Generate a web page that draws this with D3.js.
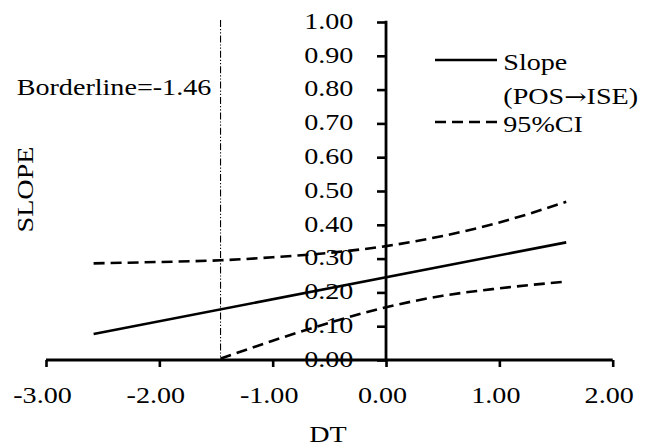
<!DOCTYPE html>
<html>
<head>
<meta charset="utf-8">
<script src="https://cdn.jsdelivr.net/npm/d3@7"></script>
<style>
  html, body { margin: 0; padding: 0; background: #fff; }
  svg { display: block; }
  text { font-family: "Liberation Serif", "Times New Roman", serif; fill: #000; }
  tspan.arrow { font-family: "DejaVu Serif", serif; }
</style>
</head>
<body>
<svg id="chart" width="647" height="447"></svg>
<script>
// Conditional slope of POS -> ISE across DT, with 95% confidence band
const xTickValues = [-3, -2, -1, 0, 1, 2];
const xTickLabels = ["-3.00", "-2.00", "-1.00", "0.00", "1.00", "2.00"];
const yTickValues = [0, 0.1, 0.2, 0.3, 0.4, 0.5, 0.6, 0.7, 0.8, 0.9, 1.0];
const yTickLabels = ["0.00", "0.10", "0.20", "0.30", "0.40", "0.50", "0.60", "0.70", "0.80", "0.90", "1.00"];

const slopeX = [-2.58, 1.59];
const slopeY = [0.077, 0.348];

const upperX = [-2.58, -2.0, -1.46, -1.0, -0.5, 0.0, 0.5, 1.0, 1.59];
const upperY = [0.286, 0.290, 0.295, 0.304, 0.317, 0.337, 0.367, 0.407, 0.468];

const lowerX = [-1.46, -1.0, -0.5, 0.0, 0.5, 1.0, 1.59];
const lowerY = [0.004, 0.057, 0.110, 0.156, 0.190, 0.212, 0.232];

const borderline = -1.46;
const legendLabels = ["Slope", "(POS\u2192ISE)", "95%CI"];

const FS = 22.5;      // font size
const SX = 1.25;      // horizontal glyph stretch

const svg = d3.select("#chart");
const x = d3.scaleLinear().domain([-3, 2]).range([46, 612.7]);
const y = d3.scaleLinear().domain([0, 1]).range([360, 22]);

// y tick labels (drawn first so the curves pass over them)
const yAxis = d3.axisLeft(y)
  .tickValues(yTickValues)
  .tickFormat((d, i) => yTickLabels[i])
  .tickSize(9)
  .tickSizeOuter(0);
const gy = svg.append("g").attr("transform", `translate(${x(0)},0)`).call(yAxis);
gy.attr("font-family", null).attr("font-size", null);
gy.select(".domain").remove();
gy.selectAll(".tick line").attr("stroke", "#000").attr("stroke-width", 2.6);
gy.selectAll(".tick text")
  .attr("x", null).attr("dy", null)
  .attr("transform", `translate(-32.7,6.3) scale(${SX},1)`)
  .attr("text-anchor", "end")
  .style("font-size", FS + "px");

const xAxis = d3.axisBottom(x)
  .tickValues(xTickValues)
  .tickFormat((d, i) => xTickLabels[i])
  .tickSize(7)
  .tickSizeOuter(0);
const gx = svg.append("g").attr("transform", `translate(0,${y(0)})`).call(xAxis);
gx.attr("font-family", null).attr("font-size", null);
gx.select(".domain").remove();
gx.selectAll(".tick line").attr("stroke", "#000").attr("stroke-width", 2.6);
gx.selectAll(".tick text")
  .attr("y", null).attr("dy", null)
  .attr("transform", `translate(-4,42.7) scale(${SX},1)`)
  .attr("text-anchor", "middle")
  .style("font-size", FS + "px");

// axis lines
svg.append("line")
  .attr("x1", x(-3)).attr("x2", x(2)).attr("y1", y(0)).attr("y2", y(0))
  .attr("stroke", "#000").attr("stroke-width", 2.8);
svg.append("line")
  .attr("x1", x(0)).attr("x2", x(0)).attr("y1", y(1) - 1.3).attr("y2", y(0))
  .attr("stroke", "#000").attr("stroke-width", 2.8);

// Johnson-Neyman borderline
svg.append("line")
  .attr("x1", x(borderline)).attr("x2", x(borderline))
  .attr("y1", y(1) - 2).attr("y2", y(0))
  .attr("stroke", "#000").attr("stroke-width", 1.1)
  .attr("stroke-dasharray", "7,2,1.2,2,1.2,2");

svg.append("text")
  .attr("transform", `translate(16.7,95) scale(${SX},1)`)
  .style("font-size", FS + "px")
  .text("Borderline=" + borderline.toFixed(2));

// slope and confidence band
const line = d3.line().x(d => x(d[0])).y(d => y(d[1]));
const curve = d3.line().x(d => x(d[0])).y(d => y(d[1])).curve(d3.curveMonotoneX);

svg.append("path")
  .datum(d3.zip(slopeX, slopeY))
  .attr("d", line)
  .attr("fill", "none").attr("stroke", "#000").attr("stroke-width", 2.6);

[[upperX, upperY], [lowerX, lowerY]].forEach(([xs, ys]) => {
  svg.append("path")
    .datum(d3.zip(xs, ys))
    .attr("d", curve)
    .attr("fill", "none").attr("stroke", "#000").attr("stroke-width", 2.6)
    .attr("stroke-dasharray", "11,6");
});

// axis titles
svg.append("text")
  .attr("transform", `translate(328,441.7) scale(${SX},1)`)
  .attr("text-anchor", "middle")
  .style("font-size", FS + "px")
  .text("DT");
svg.append("text")
  .attr("transform", `translate(33.3,189.5) rotate(-90) scale(${SX},1)`)
  .attr("text-anchor", "middle")
  .style("font-size", FS + "px")
  .text("SLOPE");

// legend
const legend = svg.append("g");
legend.append("line")
  .attr("x1", 435).attr("x2", 497).attr("y1", 60).attr("y2", 60)
  .attr("stroke", "#000").attr("stroke-width", 2.6);
legend.append("line")
  .attr("x1", 435).attr("x2", 497).attr("y1", 122).attr("y2", 122)
  .attr("stroke", "#000").attr("stroke-width", 2.6)
  .attr("stroke-dasharray", "11,6");

const legendText = (by) => legend.append("text")
  .attr("transform", `translate(503.3,${by}) scale(${SX},1)`)
  .style("font-size", FS + "px");

legendText(70).text(legendLabels[0]);
// second line: arrow glyph drawn from a font that carries a full-size arrow
const [pre, post] = legendLabels[1].split("\u2192");
const t2 = legendText(103.5);
t2.append("tspan").text(pre);
t2.append("tspan").attr("class", "arrow").style("font-size", (FS * 0.95) + "px").text("\u2192");
t2.append("tspan").text(post);
legendText(131.7).text(legendLabels[2]);
</script>
</body>
</html>
